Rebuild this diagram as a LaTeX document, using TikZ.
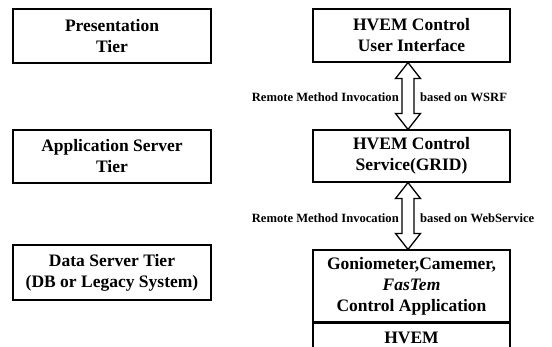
\documentclass[tikz,border=0pt]{standalone}
\usepackage{fontspec}
\setmainfont{Liberation Serif}
\usetikzlibrary{calc}
\begin{document}
\begin{tikzpicture}[x=1pt,y=-1pt,
  tier/.style={draw=black,line width=1.1pt,minimum width=198pt,inner sep=0pt,align=center,
    font=\fontsize{17.5}{21}\selectfont\bfseries},
  lbl/.style={inner sep=0pt,font=\fontsize{12.6}{14}\selectfont\bfseries},
  dblarrow/.style={draw=black,line width=1.3pt,fill=white,line join=miter}]
\useasboundingbox (0,0) rectangle (552,347);
\clip (0,0) rectangle (552,347);
% left tier column
\node[tier,minimum height=54pt] (pres) at (112,36) {Presentation\\Tier};
\node[tier,minimum height=53pt] (app) at (112,156.5) {Application Server\\Tier};
\node[tier,minimum height=55pt] (data) at (112,272.5) {Data Server Tier\\(DB or Legacy System)};
% right column
\node[tier,minimum width=197pt,minimum height=53pt] (ui) at (411.5,35.5) {HVEM Control\\User Interface};
\node[tier,minimum width=197pt,minimum height=52pt] (svc) at (411.5,156) {HVEM Control\\Service(GRID)};
\node[tier,minimum width=197pt,minimum height=72pt] (ctl) at (411.5,286) {Goniometer,Camemer,\\\textit{FasTem}\\Control Application};
\node[tier,minimum width=197pt,minimum height=29pt,anchor=north] (hvem) at (ctl.south) {HVEM};
% double arrows
\coordinate (a1t) at ([xshift=-3.5pt]ui.south);
\coordinate (a1b) at ([xshift=-3.5pt]svc.north);
\coordinate (a2t) at ([xshift=-3.5pt]svc.south);
\coordinate (a2b) at ([xshift=-3.5pt]ctl.north);
\foreach \t/\b in {a1t/a1b,a2t/a2b}{
  \draw[dblarrow] let \p1=(\t), \p2=(\b) in
    (\p1) -- (\x1+12.5pt,\y1-16pt) -- (\x1+6pt,\y1-16pt) -- (\x1+6pt,\y2+16pt)
    -- (\x2+12.5pt,\y2+16pt) -- (\p2) -- (\x2-12.5pt,\y2+16pt) -- (\x2-6pt,\y2+16pt)
    -- (\x1-6pt,\y1-16pt) -- (\x1-12.5pt,\y1-16pt) -- cycle;
}
% labels
\node[lbl,anchor=east] (l1) at ($(a1t)!0.5!(a1b)+(-9,1)$) {Remote Method Invocation};
\node[lbl,anchor=west] (r1) at ($(a1t)!0.5!(a1b)+(12,1)$) {based on WSRF};
\node[lbl,anchor=east] (l2) at ($(a2t)!0.5!(a2b)+(-9,2)$) {Remote Method Invocation};
\node[lbl,anchor=west] (r2) at ($(a2t)!0.5!(a2b)+(12,2)$) {based on WebService};
\end{tikzpicture}
\end{document}
